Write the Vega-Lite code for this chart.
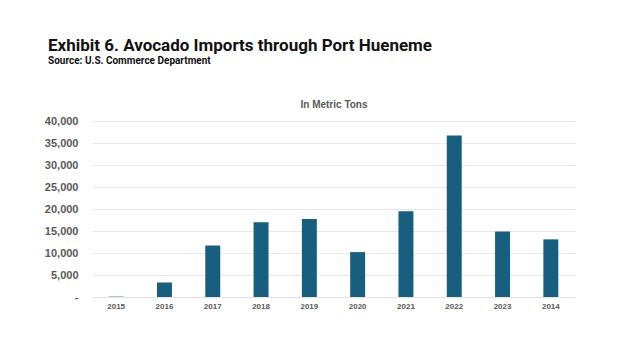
{
  "$schema": "https://vega.github.io/schema/vega-lite/v6.json",
  "width": 483,
  "height": 176,
  "autosize": {"type": "none"},
  "padding": {"left": 92, "top": 121, "right": 49, "bottom": 54},
  "background": "white",
  "title": {
    "text": "Exhibit 6. Avocado Imports through Port Hueneme",
    "subtitle": "Source: U.S. Commerce Department",
    "anchor": "start",
    "frame": "group",
    "dx": -44,
    "font": "Roboto",
    "fontSize": 17,
    "fontWeight": "bold",
    "color": "#111111",
    "subtitleFont": "Roboto",
    "subtitleFontSize": 10,
    "subtitleFontWeight": "bold",
    "subtitleColor": "#111111",
    "subtitlePadding": 1,
    "offset": 32
  },
  "config": {
    "view": {"stroke": null},
    "axis": {"labelFont": "Liberation Sans", "titleFont": "Liberation Sans"}
  },
  "data": {
    "values": [
      {"year": "2015", "tons": 80},
      {"year": "2016", "tons": 3300},
      {"year": "2017", "tons": 11700},
      {"year": "2018", "tons": 17000},
      {"year": "2019", "tons": 17700},
      {"year": "2020", "tons": 10200},
      {"year": "2021", "tons": 19500},
      {"year": "2022", "tons": 36700},
      {"year": "2023", "tons": 14900},
      {"year": "2014", "tons": 13100}
    ]
  },
  "resolve": {"axis": {"x": "independent"}},
  "encoding": {
    "y": {
      "field": "tons",
      "type": "quantitative",
      "scale": {"domain": [0, 40000]},
      "axis": {
        "title": null,
        "values": [0, 5000, 10000, 15000, 20000, 25000, 30000, 35000, 40000],
        "labelExpr": "datum.value == 0 ? '-' : format(datum.value, ',')",
        "labelOverlap": false,
        "labelFontSize": 11,
        "labelFontWeight": "bold",
        "labelColor": "#595959",
        "labelPadding": 14,
        "ticks": false,
        "domain": false,
        "gridColor": "#e8e8e8"
      }
    }
  },
  "layer": [
    {
      "mark": {"type": "bar", "color": "#175e7f"},
      "encoding": {
        "x": {
          "field": "year",
          "type": "nominal",
          "sort": null,
          "scale": {"paddingInner": 0.69, "paddingOuter": 0.345},
          "axis": {
            "orient": "bottom",
            "title": null,
            "labelAngle": 0,
            "labelFontSize": 8,
            "labelFontWeight": "bold",
            "labelColor": "#595959",
            "labelPadding": 5,
            "ticks": false,
            "domainColor": "#e3e3e3"
          }
        }
      }
    },
    {
      "mark": {"type": "bar", "opacity": 0},
      "encoding": {
        "x": {
          "field": "year",
          "type": "nominal",
          "sort": null,
          "axis": {
            "orient": "top",
            "title": "In Metric Tons",
            "titleFontSize": 10,
            "titleFontWeight": "bold",
            "titleColor": "#595959",
            "titlePadding": 12,
            "labels": false,
            "ticks": false,
            "domain": false
          }
        }
      }
    }
  ]
}
